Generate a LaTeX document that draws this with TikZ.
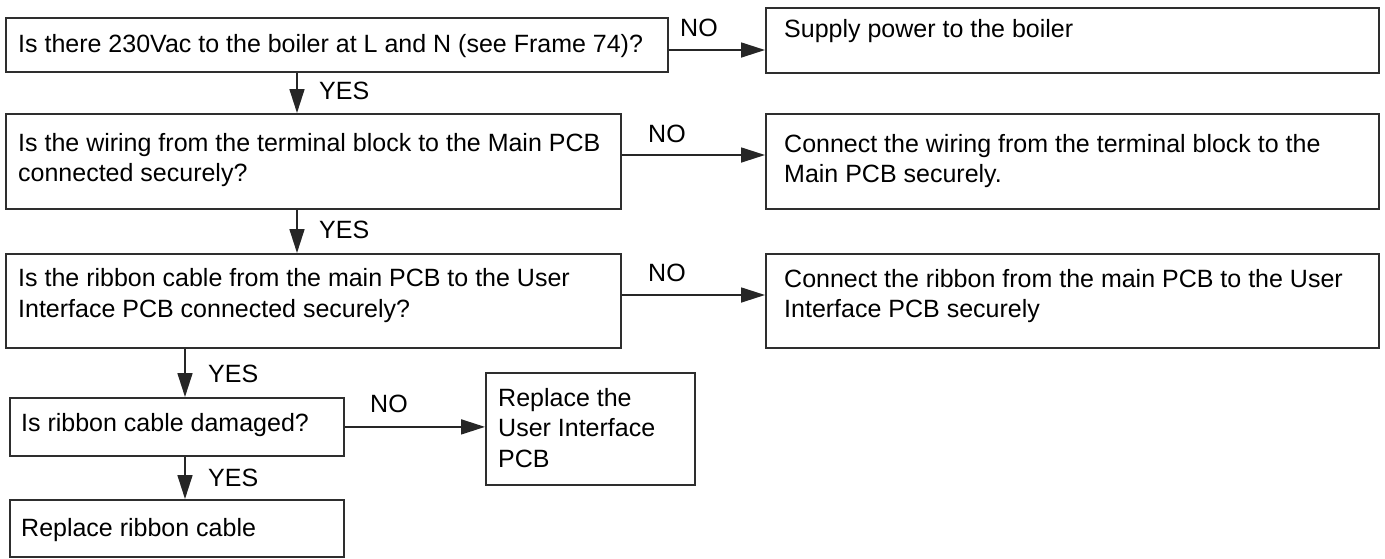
\documentclass[tikz,border=0pt]{standalone}
\usepackage{fontspec}
\setmainfont{Liberation Sans}
\usetikzlibrary{arrows.meta}
\begin{document}
\begin{tikzpicture}[x=1pt,y=-1pt,
  box/.style={draw=black!82, line width=1.8pt, inner sep=0pt, anchor=north west},
  txt/.style={anchor=base west, inner sep=0pt, font=\fontsize{25}{30.5}\selectfont},
  arr/.style={draw=black!85, line width=1.7pt, -{Triangle[length=24pt,width=15pt]}}]
\useasboundingbox (0,0) rectangle (1385,558);
% boxes
\node[box, minimum width=662pt, minimum height=54pt] (b1) at (5,17) {};
\node[box, minimum width=613pt, minimum height=65pt] (s1) at (765,7) {};
\node[box, minimum width=615pt, minimum height=95pt] (b2) at (5,113) {};
\node[box, minimum width=613pt, minimum height=95pt] (s2) at (765,113) {};
\node[box, minimum width=615pt, minimum height=94pt] (b3) at (5,253) {};
\node[box, minimum width=613pt, minimum height=94pt] (s3) at (765,253) {};
\node[box, minimum width=334pt, minimum height=58pt] (b4) at (9,397) {};
\node[box, minimum width=209pt, minimum height=112pt] (s4) at (485,372) {};
\node[box, minimum width=334pt, minimum height=57pt] (b5) at (9,499) {};
% texts
\node[txt] (t1) at (18,52) {Is there 230Vac to the boiler at L and N (see Frame 74)?};
\node[txt] (u1) at (784,37) {Supply power to the boiler};
\node[txt] (t2) at (18,151) {\parbox[t]{600pt}{Is the wiring from the terminal block to the Main PCB\\connected securely?}};
\node[txt] (u2) at (784,152) {\parbox[t]{600pt}{Connect the wiring from the terminal block to the\\Main PCB securely.}};
\node[txt] (t3) at (18,286.5) {\parbox[t]{600pt}{Is the ribbon cable from the main PCB to the User\\Interface PCB connected securely?}};
\node[txt] (u3) at (784,287) {\parbox[t]{600pt}{Connect the ribbon from the main PCB to the User\\Interface PCB securely}};
\node[txt] (t4) at (21,431) {Is ribbon cable damaged?};
\node[txt] (u4) at (498,406) {\parbox[t]{200pt}{Replace the\\User Interface\\PCB}};
\node[txt] (t5) at (21,536) {Replace ribbon cable};
% labels
\node[txt] (y1) at (319,99) {YES};
\node[txt] (y2) at (319,238) {YES};
\node[txt] (y3) at (208,382) {YES};
\node[txt] (y4) at (208,486) {YES};
\node[txt] (n1) at (680,36) {NO};
\node[txt] (n2) at (648,142) {NO};
\node[txt] (n3) at (648,281) {NO};
\node[txt] (n4) at (370,412) {NO};
% guide coordinates
\coordinate (xa) at (297,0);
\coordinate (xb) at (185,0);
\coordinate (r1) at (0,50);
\coordinate (r2) at (0,155);
\coordinate (r3) at (0,295);
% connectors
\draw[arr] (b1.south -| xa) -- (b2.north -| xa);
\draw[arr] (b2.south -| xa) -- (b3.north -| xa);
\draw[arr] (b3.south -| xb) -- (b4.north -| xb);
\draw[arr] (b4.south -| xb) -- (b5.north -| xb);
\draw[arr] (b1.east |- r1) -- (s1.west |- r1);
\draw[arr] (b2.east |- r2) -- (s2.west |- r2);
\draw[arr] (b3.east |- r3) -- (s3.west |- r3);
\draw[arr] (b4.east) -- (s4.west |- b4.east);
\end{tikzpicture}
\end{document}
